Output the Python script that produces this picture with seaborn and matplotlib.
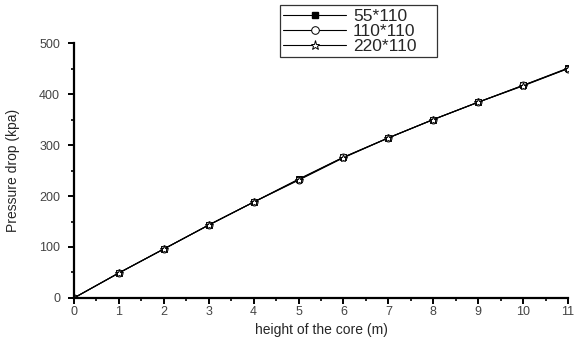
import numpy as np
import pandas as pd
import matplotlib
matplotlib.use("Agg")
import matplotlib.pyplot as plt
import seaborn as sns
from matplotlib.ticker import MultipleLocator

height = [0, 1, 2, 3, 4, 5, 6, 7, 8, 9, 10, 11]
s55 = [0, 49, 96, 143, 188, 233, 276, 314, 350, 384, 417, 451]
s110 = [0, 49, 96, 143, 188, 232, 276, 314, 350, 384, 417, 450]
s220 = [0, 49, 96, 143, 188, 231, 275, 314, 350, 384, 416, 450]
labels = ["55*110", "110*110", "220*110"]

df = pd.concat([
    pd.DataFrame({"h": height, "p": vals, "series": lab})
    for vals, lab in zip([s55, s110, s220], labels)
])

sns.set_style("ticks")
plt.rcParams["font.family"] = ["Liberation Sans", "DejaVu Sans"]

fig = plt.figure(figsize=(5.82, 3.39), dpi=100)
ax = fig.add_axes([0.127, 0.121, 0.849, 0.752])

sns.lineplot(data=df, x="h", y="p", hue="series", style="series",
             palette=["black", "black", "black"], markers=["s", "o", "*"],
             dashes=False, linewidth=0.8, markersize=5, ax=ax, legend=False)
for line, fc, ms in zip(ax.lines, ["black", "white", "white"], [4.5, 5, 6]):
    line.set_markerfacecolor(fc)
    line.set_markeredgecolor("black")
    line.set_markeredgewidth(0.7)
    line.set_markersize(ms)

ax.set_xlim(0, 11)
ax.set_ylim(0, 500)
ax.xaxis.set_major_locator(MultipleLocator(1))
ax.xaxis.set_minor_locator(MultipleLocator(0.5))
ax.yaxis.set_major_locator(MultipleLocator(100))
ax.yaxis.set_minor_locator(MultipleLocator(50))
sns.despine(ax=ax)
for sp in ["left", "bottom"]:
    ax.spines[sp].set_linewidth(1.6)
    ax.spines[sp].set_color("black")
ax.tick_params(which="major", length=4, width=1.4, labelsize=9, colors="black", labelcolor="#444444")
ax.tick_params(axis="y", which="major", pad=6)
ax.tick_params(axis="x", which="major", pad=1.5)
ax.tick_params(which="minor", length=2.5, width=1.2, colors="black")
ax.set_xlabel("height of the core (m)", fontsize=10, labelpad=4)
ax.set_ylabel("Pressure drop (kpa)", fontsize=10, labelpad=14)

from matplotlib.lines import Line2D
handles = [
    Line2D([], [], color="black", lw=0.8, marker="s", ms=5, mfc="black", mec="black"),
    Line2D([], [], color="black", lw=0.8, marker="o", ms=5.5, mfc="white", mec="black", mew=0.7),
    Line2D([], [], color="black", lw=0.8, marker="*", ms=6.5, mfc="white", mec="black", mew=0.7),
]
leg = fig.legend(handles, labels, loc="upper left",
                 bbox_to_anchor=(0.481, 0.829, 0.27, 0.156), mode="expand",
                 frameon=True, fancybox=False, edgecolor="black", fontsize=12.5,
                 handlelength=3.6, handletextpad=0.4, borderpad=0.2, labelspacing=0.0,
                 borderaxespad=0)
leg.get_frame().set_linewidth(0.9)

fig.savefig("out.png", dpi=100)
